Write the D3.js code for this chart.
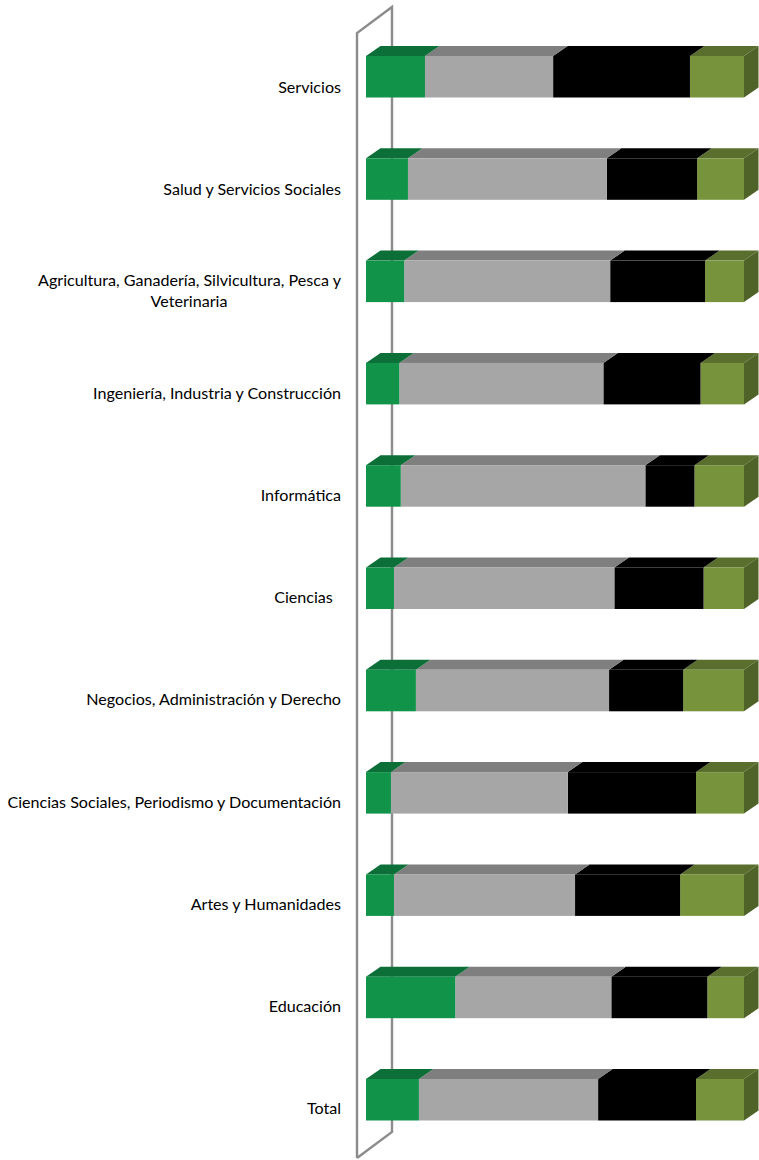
<!DOCTYPE html>
<html><head><meta charset="utf-8">
<style>html,body{margin:0;padding:0;background:#fff}svg{display:block}text{font-family:Lato,"Open Sans",sans-serif;font-size:16.1px;fill:#000}</style>
<script src="https://cdn.jsdelivr.net/npm/d3@7"></script></head><body>
<svg id="c" width="759" height="1160"></svg>
<script>
const categories=[["Servicios"],["Salud y Servicios Sociales"],["Agricultura, Ganadería, Silvicultura, Pesca y","Veterinaria"],["Ingeniería, Industria y Construcción"],["Informática"],["Ciencias  "],["Negocios, Administración y Derecho"],["Ciencias Sociales, Periodismo y Documentación"],["Artes y Humanidades"],["Educación"],["Total"]];
const seriesA=[15.6,11.1,10.1,8.8,9.2,7.4,13.2,6.6,7.4,23.6,14.0];
const seriesB=[33.9,52.6,54.5,54.0,64.7,58.3,51.1,46.8,47.9,41.3,47.4];
const seriesC=[36.2,23.9,25.1,25.7,13.0,23.6,19.6,33.9,27.8,25.4,25.9];
const seriesD=[14.3,12.4,10.3,11.5,13.1,10.7,16.1,12.7,16.9,9.7,12.7];
const faces=[["#11934a","#0c6f38"],["#a6a6a6","#7f7f7f"],["#000000","#000000"],["#77933c","#5a6f2d"]];
const sideColor="#4f6228", wallColor="#8c8c8c";
const rows=categories.map((c,i)=>({i,a:seriesA[i],b:seriesB[i],c:seriesC[i],d:seriesD[i]}));
const stack=d3.stack().keys(["a","b","c","d"])(rows);
const svg=d3.select("#c");
const x=d3.scaleLinear().domain([0,100]).range([366,744]);
const y2=d3.scaleLinear().domain([0,10]).range([56,1079]);
const yLabel=d3.scaleLinear().domain([0,10]).range([92.5,1114]);
const barH=41.5, dx=14.5, dy=10;
const line=d3.line();
svg.append("path").attr("d",line([[357,1158],[357,33],[392,7],[392,1132],[357,1158]])).attr("fill","none").attr("stroke",wallColor).attr("stroke-width",2.4).attr("stroke-linejoin","miter");
stack.slice().reverse().forEach((s)=>{
  const k=stack.indexOf(s);
  const g=svg.append("g");
  s.forEach((d,i)=>{
    const x0=x(d[0]),x1=x(d[1]),t=y2(i);
    g.append("path").attr("d",line([[x0,t],[x0+dx,t-dy],[x1+dx,t-dy],[x1,t]])+"Z").attr("fill",faces[k][1]);
    g.append("rect").attr("x",x0).attr("y",t).attr("width",x1-x0).attr("height",barH).attr("fill",faces[k][0]);
    if(k===3) g.append("path").attr("d",line([[x1,t],[x1+dx,t-dy],[x1+dx,t-dy+barH],[x1,t+barH]])+"Z").attr("fill",sideColor);
  });
});
const lab=svg.append("g");
categories.forEach((c,i)=>{
  const cy=yLabel(i);
  if(c.length===1){
    lab.append("text").attr("x",341).attr("y",cy).attr("text-anchor","end").attr("xml:space","preserve").style("white-space","pre").text(c[0]);
  } else {
    lab.append("text").attr("x",341).attr("y",cy-10.5).attr("text-anchor","end").text(c[0]);
    lab.append("text").attr("x",189).attr("y",cy+10.5).attr("text-anchor","middle").text(c[1]);
  }
});
</script></body></html>
